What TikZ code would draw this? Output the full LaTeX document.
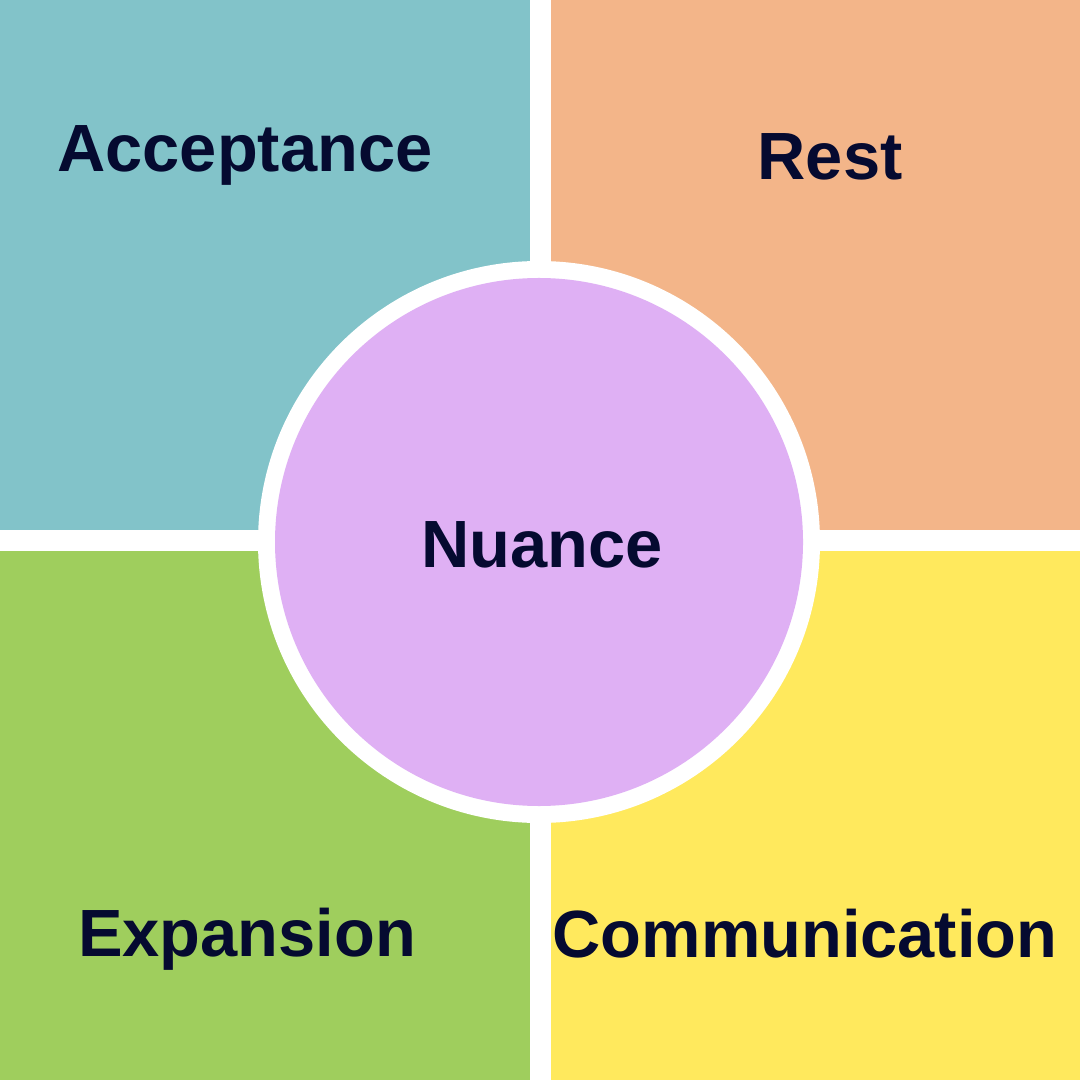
\documentclass[tikz,border=0pt]{standalone}
\usepackage{fontspec}
\setmainfont{Liberation Sans}
\definecolor{cteal}{HTML}{82C3C9}
\definecolor{corange}{HTML}{F3B589}
\definecolor{cgreen}{HTML}{9FCE5D}
\definecolor{cyellow}{HTML}{FFE95D}
\definecolor{cpurple}{HTML}{DFB0F4}
\definecolor{ctext}{HTML}{050A30}
\tikzset{
  lbl/.style={anchor=base, text=ctext, inner sep=0pt, font=\fontsize{19pt}{23pt}\selectfont\bfseries},
}
\begin{document}
\begin{tikzpicture}[x=0.01cm,y=-0.01cm]
\useasboundingbox (0,0) rectangle (1080,1080);
\fill[white] (0,0) rectangle (1080,1080);
\fill[cteal] (0,0) rectangle (530,530);
\fill[corange] (551,0) rectangle (1080,530);
\fill[cgreen] (0,551) rectangle (530,1080);
\fill[cyellow] (551,551) rectangle (1080,1080);
\fill[white] (539,542) circle[radius=281];
\fill[cpurple] (539,542) circle[radius=264];
\node[lbl] (acc) at (245,172) {Acceptance};
\node[lbl] (rest) at (830,180) {Rest};
\node[lbl] (nua) at (542,567) {Nuance};
\node[lbl] (exp) at (247,956) {Expansion};
\node[lbl] (com) at (805,957) {Communication};
\end{tikzpicture}
\end{document}
